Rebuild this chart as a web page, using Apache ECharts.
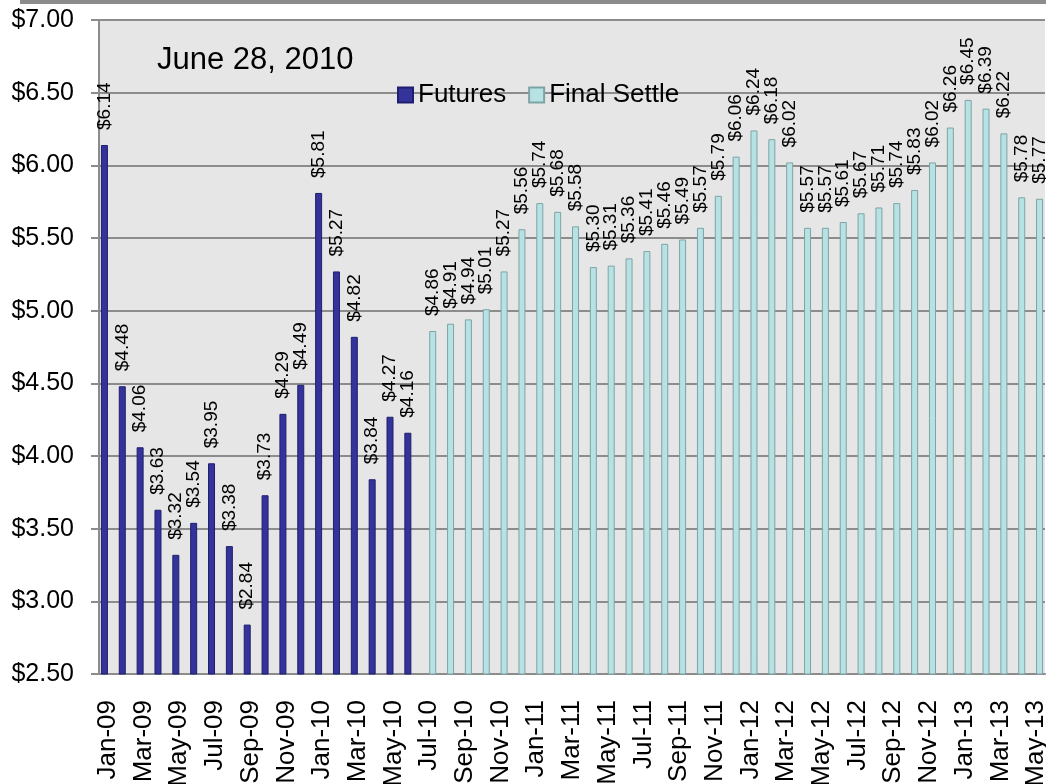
<!DOCTYPE html>
<html>
<head>
<meta charset="utf-8">
<script src="https://cdn.jsdelivr.net/npm/echarts@6/dist/echarts.min.js"></script>
<style>
  html, body { margin: 0; padding: 0; background: #fff; }
  #main { width: 1046px; height: 784px; }
</style>
</head>
<body>
<div id="main"></div>
<script>
var months = ['Jan-09', 'Feb-09', 'Mar-09', 'Apr-09', 'May-09', 'Jun-09', 'Jul-09', 'Aug-09', 'Sep-09', 'Oct-09', 'Nov-09', 'Dec-09',
  'Jan-10', 'Feb-10', 'Mar-10', 'Apr-10', 'May-10', 'Jun-10', 'Jul-10', 'Aug-10', 'Sep-10', 'Oct-10', 'Nov-10', 'Dec-10',
  'Jan-11', 'Feb-11', 'Mar-11', 'Apr-11', 'May-11', 'Jun-11', 'Jul-11', 'Aug-11', 'Sep-11', 'Oct-11', 'Nov-11', 'Dec-11',
  'Jan-12', 'Feb-12', 'Mar-12', 'Apr-12', 'May-12', 'Jun-12', 'Jul-12', 'Aug-12', 'Sep-12', 'Oct-12', 'Nov-12', 'Dec-12',
  'Jan-13', 'Feb-13', 'Mar-13', 'Apr-13', 'May-13'];

// Jan-09 .. Jun-10
var futures = [6.14, 4.48, 4.06, 3.63, 3.32, 3.54, 3.95, 3.38, 2.84, 3.73, 4.29, 4.49,
  5.81, 5.27, 4.82, 3.84, 4.27, 4.16];

// Jul-10 .. May-13
var finalSettle = [4.86, 4.91, 4.94, 5.01, 5.27, 5.56,
  5.74, 5.68, 5.58, 5.30, 5.31, 5.36, 5.41, 5.46, 5.49, 5.57, 5.79, 6.06,
  6.24, 6.18, 6.02, 5.57, 5.57, 5.61, 5.67, 5.71, 5.74, 5.83, 6.02, 6.26,
  6.45, 6.39, 6.22, 5.78, 5.77];

var yTicks = [2.5, 3.0, 3.5, 4.0, 4.5, 5.0, 5.5, 6.0, 6.5, 7.0];

var futuresData = months.map(function (m, i) {
  return i < futures.length ? futures[i] : '-';
});
var settleData = months.map(function (m, i) {
  var k = i - futures.length;
  return k >= 0 ? finalSettle[k] : '-';
});

var FONT = '"Liberation Sans", Arial, sans-serif';

function dataLabel() {
  return {
    show: true,
    position: 'top',
    rotate: 90,
    align: 'left',
    verticalAlign: 'middle',
    distance: 15,
    fontFamily: FONT,
    fontSize: 19,
    color: '#000',
    formatter: function (p) { return '$' + p.value.toFixed(2); }
  };
}

var chart = echarts.init(document.getElementById('main'));
chart.setOption({
  animation: false,
  backgroundColor: '#fff',
  title: {
    text: 'June 28, 2010',
    left: 152,
    top: 40,
    textStyle: { fontFamily: FONT, fontSize: 31, fontWeight: 'normal', color: '#000' }
  },
  legend: {
    left: 392,
    top: 77,
    itemWidth: 15,
    itemHeight: 15,
    itemGap: 22,
    icon: 'rect',
    textStyle: { fontFamily: FONT, fontSize: 26, color: '#000' },
    data: ['Futures', 'Final Settle']
  },
  graphic: [{
    type: 'rect',
    shape: { x: 20, y: 0, width: 1030, height: 4 },
    style: { fill: '#8c8c8c' }
  }],
  grid: {
    left: 99,
    right: 1,
    top: 20,
    bottom: 110,
    outerBoundsMode: 'none',
    show: true,
    backgroundColor: '#e6e6e6',
    borderWidth: 0
  },
  xAxis: {
    type: 'category',
    data: months,
    axisLine: { lineStyle: { color: '#8c8c8c', width: 2 } },
    axisTick: { interval: 1, length: 7, lineStyle: { color: '#8c8c8c', width: 2 } },
    axisLabel: {
      interval: 1,
      rotate: 90,
      margin: 26,
      fontFamily: FONT,
      fontSize: 26,
      color: '#000'
    }
  },
  yAxis: {
    type: 'value',
    min: yTicks[0],
    max: yTicks[yTicks.length - 1],
    interval: 0.5,
    axisLine: { show: true, lineStyle: { color: '#8c8c8c', width: 2 } },
    axisTick: { show: true, length: 8, lineStyle: { color: '#8c8c8c', width: 2 } },
    splitLine: { lineStyle: { color: '#8c8c8c', width: 2 } },
    axisLabel: {
      margin: 25,
      fontFamily: FONT,
      fontSize: 25,
      color: '#000',
      formatter: function (v) { return '$' + v.toFixed(2); }
    }
  },
  series: [{
    name: 'Futures',
    type: 'bar',
    data: futuresData,
    barWidth: 7,
    barGap: '0%',
    itemStyle: { color: '#333399', borderColor: '#1f1f70', borderWidth: 1 },
    label: dataLabel()
  }, {
    name: 'Final Settle',
    type: 'bar',
    data: settleData,
    barWidth: 7,
    barGap: '0%',
    itemStyle: { color: '#b7e2e4', borderColor: '#7fa3a5', borderWidth: 1 },
    label: dataLabel()
  }]
});
</script>
</body>
</html>
